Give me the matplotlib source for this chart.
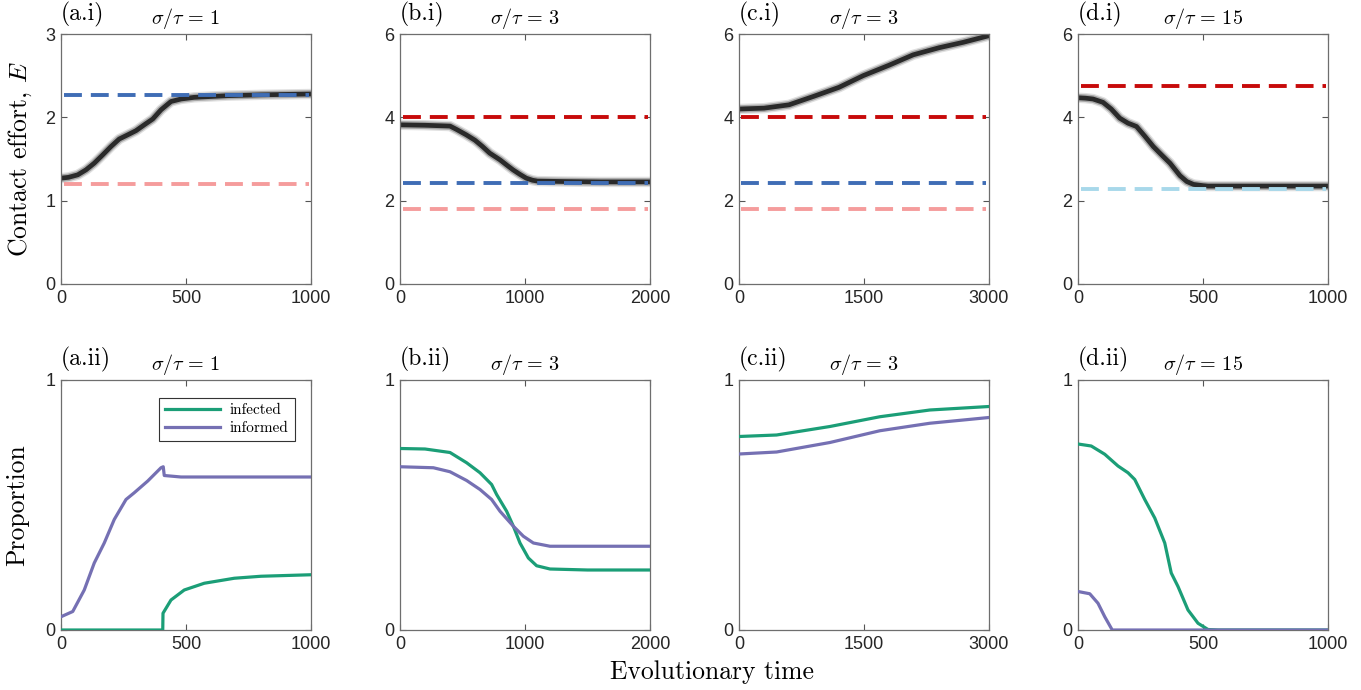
import numpy as np
import matplotlib
matplotlib.use("Agg")
import matplotlib.pyplot as plt

plt.rcParams["mathtext.fontset"] = "cm"
plt.rcParams["font.family"] = ["Liberation Sans", "DejaVu Sans"]
plt.rcParams["axes.unicode_minus"] = False

SERIF = "cmr10"

# ---- top row: trait (contact effort) trajectories ----
xmax = [1000, 2000, 3000, 1000]
sigma_tau = [1, 3, 3, 15]
panel_ids = ["a", "b", "c", "d"]

trait_t = [
    [0, 30, 67, 100, 133, 167, 200, 233, 267, 300, 333, 367, 400, 440, 480, 533, 600, 667, 800, 1000],
    [0, 200, 400, 452, 530, 600, 660, 718, 800, 860, 904, 960, 1010, 1060, 1100, 1300, 1600, 2000],
    [0, 300, 600, 891, 1200, 1490, 1800, 2090, 2400, 2690, 3000],
    [0, 30, 60, 100, 133, 167, 200, 234, 267, 301, 334, 368, 408, 435, 462, 500, 520, 700, 1000],
]
trait_E = [
    [1.27, 1.28, 1.31, 1.37, 1.45, 1.55, 1.65, 1.74, 1.79, 1.84, 1.91, 1.98, 2.09, 2.19, 2.22, 2.24, 2.25, 2.26, 2.27, 2.28],
    [3.82, 3.81, 3.79, 3.71, 3.58, 3.45, 3.30, 3.14, 2.98, 2.84, 2.74, 2.63, 2.54, 2.49, 2.47, 2.46, 2.45, 2.45],
    [4.20, 4.22, 4.30, 4.50, 4.72, 5.00, 5.25, 5.50, 5.67, 5.80, 5.96],
    [4.47, 4.46, 4.44, 4.36, 4.20, 3.98, 3.86, 3.78, 3.55, 3.30, 3.10, 2.90, 2.60, 2.46, 2.39, 2.36, 2.35, 2.35, 2.35],
]

# reference levels (dashed lines) per panel: (value, colour)
ref_levels = [
    [(2.27, "#3f6db5"), (1.20, "#f59c9c")],
    [(4.00, "#c70a0a"), (2.43, "#3f6db5"), (1.81, "#f59c9c")],
    [(4.00, "#c70a0a"), (2.43, "#3f6db5"), (1.81, "#f59c9c")],
    [(4.75, "#c70a0a"), (2.29, "#a8d8ea")],
]
yticks_top = [[0, 1, 2, 3], [0, 2, 4, 6], [0, 2, 4, 6], [0, 2, 4, 6]]

# ---- bottom row: proportions ----
inf_t = [
    [0, 407, 408, 440, 493, 573, 693, 800, 1000],
    [0, 200, 400, 533, 640, 733, 773, 853, 907, 960, 1027, 1093, 1200, 1500, 2000],
    [0, 451, 1091, 1690, 2290, 3000],
    [0, 53, 107, 160, 200, 227, 267, 307, 347, 373, 400, 440, 480, 520, 560, 1000],
]
infected = [
    [0.0, 0.0, 0.067, 0.12, 0.16, 0.187, 0.207, 0.215, 0.221],
    [0.726, 0.724, 0.71, 0.669, 0.629, 0.582, 0.542, 0.475, 0.415, 0.348, 0.288, 0.257, 0.244, 0.240, 0.240],
    [0.774, 0.78, 0.814, 0.853, 0.88, 0.894],
    [0.744, 0.736, 0.703, 0.656, 0.629, 0.602, 0.522, 0.448, 0.348, 0.228, 0.174, 0.08, 0.027, 0.002, 0.0, 0.0],
]
infm_t = [
    [0, 47, 93, 133, 173, 213, 260, 293, 347, 400, 409, 413, 480, 1000],
    [0, 267, 400, 533, 640, 733, 800, 907, 987, 1067, 1200, 1500, 2000],
    [0, 451, 1091, 1690, 2290, 3000],
    [0, 47, 80, 107, 137, 1000],
]
informed = [
    [0.053, 0.074, 0.16, 0.268, 0.348, 0.442, 0.522, 0.549, 0.596, 0.649, 0.653, 0.618, 0.612, 0.612],
    [0.653, 0.649, 0.633, 0.598, 0.562, 0.522, 0.475, 0.415, 0.375, 0.348, 0.335, 0.335, 0.335],
    [0.704, 0.712, 0.75, 0.797, 0.827, 0.85],
    [0.154, 0.145, 0.107, 0.053, 0.0, 0.0],
]

GREEN = "#1b9e77"
PURPLE = "#7570b3"

fig = plt.figure(figsize=(13.61, 6.90), dpi=100)

lefts = [61, 400, 739, 1078]
W, H = 1361.0, 690.0


def style_axes(ax, xm, yt):
    ax.set_xlim(0, xm)
    ax.set_xticks([0, xm // 2, xm])
    ax.set_ylim(yt[0], yt[-1])
    ax.set_yticks(yt)
    ax.tick_params(direction="in", top=True, right=True, length=4, width=0.8,
                   labelsize=13, colors="#555555", labelcolor="#262626", pad=4)
    for s in ax.spines.values():
        s.set_color("#6e6e6e")
        s.set_linewidth(0.9)


for i in range(4):
    # top panel
    ax = fig.add_axes([lefts[i] / W, 406 / H, 250 / W, 250 / H])
    t = trait_t[i]
    E = trait_E[i]
    ax.plot(t, E, color="black", lw=7.5, alpha=0.12, solid_capstyle="butt", zorder=2)
    ax.plot(t, E, color="black", lw=5.5, alpha=0.25, solid_capstyle="butt", zorder=2)
    ax.plot(t, E, color="black", lw=3.4, alpha=0.75, solid_capstyle="butt", zorder=2)
    for val, col in ref_levels[i]:
        ax.axhline(val, xmin=0.01, xmax=0.99, color=col, lw=2.8,
                   ls=(0, (4.6, 2.3)), zorder=3)
    style_axes(ax, xmax[i], yticks_top[i])
    ax.text(0.0, 1.03, "(%s.i)" % panel_ids[i], transform=ax.transAxes,
            fontfamily=SERIF, fontsize=17, ha="left", va="bottom")
    ax.set_title(r"$\sigma/\tau\,=\,%d$" % sigma_tau[i], fontsize=14.5, pad=7)
    if i == 0:
        ax.set_ylabel(r"Contact effort, $E$", fontfamily=SERIF, fontsize=18.5, labelpad=8)

    # bottom panel
    ax2 = fig.add_axes([lefts[i] / W, 60 / H, 250 / W, 250 / H])
    ax2.plot(inf_t[i], infected[i], color=GREEN, lw=2.3, label="infected", zorder=3)
    ax2.plot(infm_t[i], informed[i], color=PURPLE, lw=2.3, label="informed", zorder=3)
    style_axes(ax2, xmax[i], [0, 1])
    ax2.text(0.0, 1.03, "(%s.ii)" % panel_ids[i], transform=ax2.transAxes,
             fontfamily=SERIF, fontsize=17, ha="left", va="bottom")
    ax2.set_title(r"$\sigma/\tau\,=\,%d$" % sigma_tau[i], fontsize=14.5, pad=7)
    if i == 0:
        ax2.set_ylabel("Proportion", fontfamily=SERIF, fontsize=18.5, labelpad=12)
        leg = ax2.legend(loc="upper right", bbox_to_anchor=(0.965, 0.96),
                         prop={"family": SERIF, "size": 11}, fancybox=False,
                         framealpha=1, edgecolor="#333333", handlelength=3.6,
                         borderpad=0.4, labelspacing=0.25, handletextpad=0.6)
        leg.get_frame().set_linewidth(0.8)

fig.text(712 / W, 1 - 672 / H, "Evolutionary time", fontfamily=SERIF,
         fontsize=18.5, ha="center", va="center")

fig.savefig("out.png", dpi=100)
